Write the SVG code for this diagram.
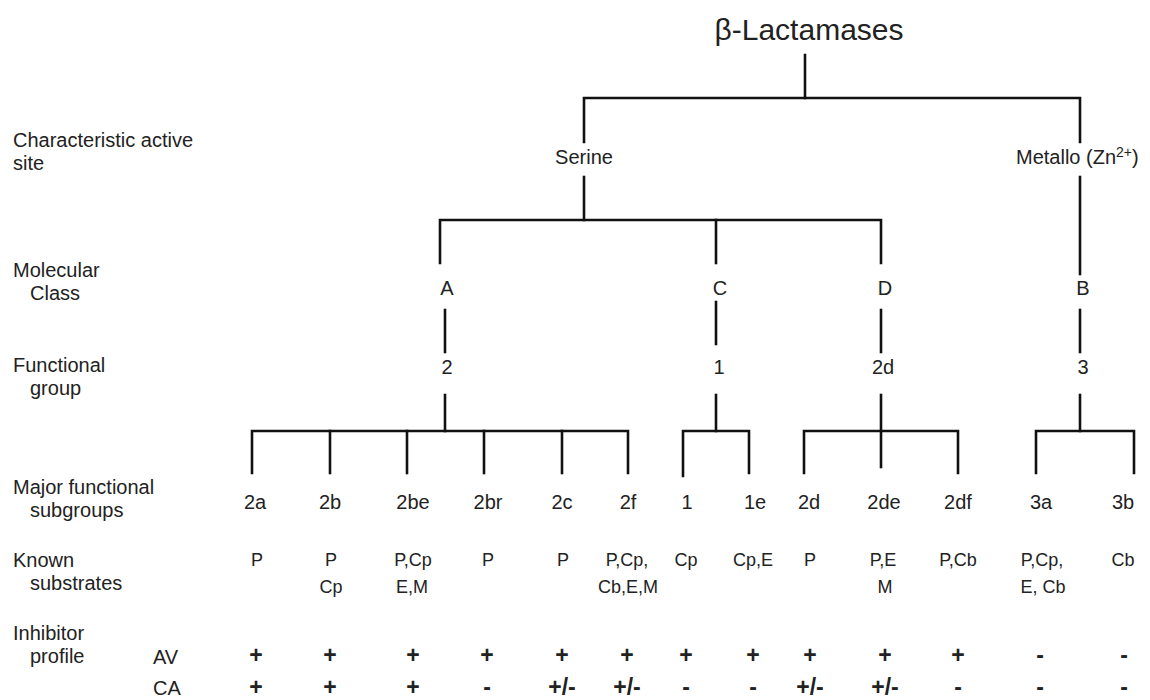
<svg xmlns="http://www.w3.org/2000/svg" width="1150" height="700" viewBox="0 0 1150 700">
  <style>
    text { font-family: "Liberation Sans", Arial, sans-serif; fill: #222222; }
    .title { font-size: 30px; text-anchor: middle; }
    .row { font-size: 20px; }
    .node { font-size: 20px; text-anchor: middle; }
    .sub { font-size: 18px; text-anchor: middle; }
    .inh { font-size: 23px; font-weight: bold; text-anchor: middle; }
    .wire { stroke: #111; stroke-width: 2.6; fill: none; stroke-linecap: square; }
  </style>
  <rect width="1150" height="700" fill="#ffffff"/>

  <!-- connectors -->
  <g id="connectors" class="wire">
    <!-- root split -->
    <path d="M805 55 V98"/>
    <path d="M584 142 V98 H1080 V142"/>
    <!-- serine branch -->
    <path d="M584 177 V220"/>
    <path d="M440 263 V220 H881 V263"/>
    <path d="M716 220 V263"/>
    <!-- metallo branch -->
    <path d="M1080 177 V274"/>
    <!-- class to group -->
    <path d="M445 310 V352"/>
    <path d="M716 302 V344"/>
    <path d="M881 310 V352"/>
    <path d="M1080 310 V352"/>
    <!-- group 2 subgroups -->
    <path d="M445 395 V431"/>
    <path d="M252 473 V431 H628 V473"/>
    <path d="M330 431 V473"/>
    <path d="M407 431 V473"/>
    <path d="M484 431 V473"/>
    <path d="M562 431 V473"/>
    <!-- group 1 subgroups -->
    <path d="M716 395 V431"/>
    <path d="M683 476 V431 H749 V473"/>
    <!-- group 2d subgroups -->
    <path d="M881 395 V467"/>
    <path d="M804 473 V431 H958 V473"/>
    <!-- group 3 subgroups -->
    <path d="M1080 395 V431"/>
    <path d="M1036 473 V431 H1134 V473"/>
  </g>

  <!-- row headings -->
  <g id="row-labels">
    <text class="row" x="13" y="147">Characteristic active</text>
    <text class="row" x="13" y="170">site</text>
    <text class="row" x="13" y="277">Molecular</text>
    <text class="row" x="30" y="300">Class</text>
    <text class="row" x="13" y="372">Functional</text>
    <text class="row" x="30" y="395">group</text>
    <text class="row" x="13" y="494">Major functional</text>
    <text class="row" x="30" y="517">subgroups</text>
    <text class="row" x="13" y="567">Known</text>
    <text class="row" x="30" y="590">substrates</text>
    <text class="row" x="13" y="640">Inhibitor</text>
    <text class="row" x="30" y="663">profile</text>
    <text class="row" x="153" y="664">AV</text>
    <text class="row" x="153" y="695">CA</text>
  </g>

  <g id="root"><text class="title" x="809" y="40">β-Lactamases</text></g>

  <g id="serine"><text class="node" x="584" y="164">Serine</text></g>
  <g id="metallo"><text class="row" x="1016" y="164">Metallo (Zn<tspan font-size="14" dy="-7">2+</tspan><tspan dy="7">)</tspan></text></g>

  <g id="class-A"><text class="node" x="447" y="295">A</text></g>
  <g id="class-C"><text class="node" x="720" y="295">C</text></g>
  <g id="class-D"><text class="node" x="885" y="295">D</text></g>
  <g id="class-B"><text class="node" x="1083" y="295">B</text></g>

  <g id="group-2"><text class="node" x="447" y="374">2</text></g>
  <g id="group-1"><text class="node" x="719" y="374">1</text></g>
  <g id="group-2d"><text class="node" x="883" y="374">2d</text></g>
  <g id="group-3"><text class="node" x="1083" y="374">3</text></g>

  <!-- subgroups with substrates and inhibitor profile -->
  <g id="sub-2a">
    <text class="node" x="255" y="509">2a</text>
    <text class="sub" x="257" y="566">P</text>
    <text class="inh" x="256" y="663">+</text>
    <text class="inh" x="256" y="695">+</text>
  </g>
  <g id="sub-2b">
    <text class="node" x="330" y="509">2b</text>
    <text class="sub" x="331" y="566">P</text>
    <text class="sub" x="331" y="593">Cp</text>
    <text class="inh" x="330" y="663">+</text>
    <text class="inh" x="330" y="695">+</text>
  </g>
  <g id="sub-2be">
    <text class="node" x="413" y="509">2be</text>
    <text class="sub" x="413" y="566">P,Cp</text>
    <text class="sub" x="412" y="593">E,M</text>
    <text class="inh" x="413" y="663">+</text>
    <text class="inh" x="413" y="695">+</text>
  </g>
  <g id="sub-2br">
    <text class="node" x="488" y="509">2br</text>
    <text class="sub" x="488" y="566">P</text>
    <text class="inh" x="487" y="663">+</text>
    <text class="inh" x="487" y="695">-</text>
  </g>
  <g id="sub-2c">
    <text class="node" x="562" y="509">2c</text>
    <text class="sub" x="563" y="566">P</text>
    <text class="inh" x="562" y="663">+</text>
    <text class="inh" x="562" y="695">+/-</text>
  </g>
  <g id="sub-2f">
    <text class="node" x="628" y="509">2f</text>
    <text class="sub" x="627" y="566">P,Cp,</text>
    <text class="sub" x="628" y="593">Cb,E,M</text>
    <text class="inh" x="627" y="663">+</text>
    <text class="inh" x="627" y="695">+/-</text>
  </g>
  <g id="sub-1">
    <text class="node" x="687" y="509">1</text>
    <text class="sub" x="686" y="566">Cp</text>
    <text class="inh" x="686" y="663">+</text>
    <text class="inh" x="686" y="695">-</text>
  </g>
  <g id="sub-1e">
    <text class="node" x="755" y="509">1e</text>
    <text class="sub" x="753" y="566">Cp,E</text>
    <text class="inh" x="753" y="663">+</text>
    <text class="inh" x="753" y="695">-</text>
  </g>
  <g id="sub-2d">
    <text class="node" x="809" y="509">2d</text>
    <text class="sub" x="810" y="566">P</text>
    <text class="inh" x="810" y="663">+</text>
    <text class="inh" x="810" y="695">+/-</text>
  </g>
  <g id="sub-2de">
    <text class="node" x="884" y="509">2de</text>
    <text class="sub" x="883" y="566">P,E</text>
    <text class="sub" x="885" y="593">M</text>
    <text class="inh" x="885" y="663">+</text>
    <text class="inh" x="885" y="695">+/-</text>
  </g>
  <g id="sub-2df">
    <text class="node" x="958" y="509">2df</text>
    <text class="sub" x="958" y="566">P,Cb</text>
    <text class="inh" x="958" y="663">+</text>
    <text class="inh" x="958" y="695">-</text>
  </g>
  <g id="sub-3a">
    <text class="node" x="1041" y="509">3a</text>
    <text class="sub" x="1042" y="566">P,Cp,</text>
    <text class="sub" x="1043" y="593">E, Cb</text>
    <text class="inh" x="1040" y="663">-</text>
    <text class="inh" x="1040" y="695">-</text>
  </g>
  <g id="sub-3b">
    <text class="node" x="1123" y="509">3b</text>
    <text class="sub" x="1123" y="566">Cb</text>
    <text class="inh" x="1124" y="663">-</text>
    <text class="inh" x="1124" y="695">-</text>
  </g>
</svg>
